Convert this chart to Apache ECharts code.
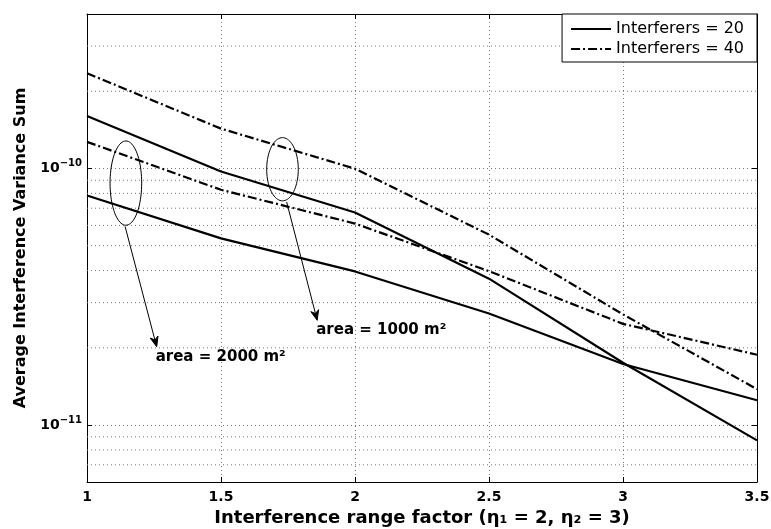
<!DOCTYPE html>
<html><head><meta charset="utf-8">
<script src="https://cdn.jsdelivr.net/npm/echarts@6/dist/echarts.min.js"></script>
<style>html,body{margin:0;padding:0;background:#fff}#c{width:771px;height:529px}</style>
</head><body><div id="c"></div>
<script>
// ---- data ----
const xValues = [1, 1.5, 2, 2.5, 3, 3.5];
const xTickLabels = ['1', '1.5', '2', '2.5', '3', '3.5'];
const yTickExponents = [-11, -10];
const i20Area1000 = [1.60e-10, 9.73e-11, 6.74e-11, 3.72e-11, 1.75e-11, 8.72e-12];
const i20Area2000 = [7.85e-11, 5.34e-11, 3.97e-11, 2.72e-11, 1.73e-11, 1.25e-11];
const i40Area1000 = [2.35e-10, 1.43e-10, 9.98e-11, 5.52e-11, 2.70e-11, 1.38e-11];
const i40Area2000 = [1.27e-10, 8.26e-11, 6.10e-11, 3.98e-11, 2.48e-11, 1.88e-11];
const legendNames = ['Interferers = 20', 'Interferers = 40'];
const xTitle = 'Interference range factor (η₁ = 2, η₂ = 3)';
const yTitle = 'Average Interference Variance Sum';
const annLabels = ['area = 2000 m²', 'area = 1000 m²'];
const annEllipseBoxes = [[1.086, 1.204, 6.01e-11, 1.28e-10], [1.6705, 1.7884, 7.48e-11, 1.319e-10]];
const annArrowFrom = [[1.142, 5.95e-11], [1.745, 7.4e-11]];
const annArrowTo = [[1.26, 2.02e-11], [1.859, 2.56e-11]];
const xMin = 1, xMax = 3.5, yMin = 6e-12, yMax = 4e-10;

// ---- styles ----
const FONT = "'DejaVu Sans', sans-serif";
const gridDot = { type: [1, 3], color: '#777', width: 1 };
const dashDot = [9, 3, 2, 3];

// minor log gridline values (2..9 x decade) inside the axis range
const minorGrid = [];
for (let d = -12; d <= -10; d++) {
  for (let k = 2; k <= 9; k++) {
    const v = k * Math.pow(10, d);
    if (v > yMin * 1.0001 && v < yMax * 0.9999) minorGrid.push(v);
  }
}

function lineSeries(name, values, dashed) {
  return {
    name: name, type: 'line',
    data: xValues.map((x, i) => [x, values[i]]),
    symbol: 'none', showSymbol: false, z: 3, animation: false,
    lineStyle: { color: '#000', width: 2.2, type: dashed ? dashDot : 'solid' },
    itemStyle: { color: '#000' },
    emphasis: { disabled: true }
  };
}

const chart = echarts.init(document.getElementById('c'), null, { renderer: 'canvas' });
const axisLineStyle = { show: true, lineStyle: { color: '#000', width: 1 } };
const option = {
  backgroundColor: '#fff',
  animation: false,
  grid: { left: 87, right: 14, top: 14, bottom: 47, containLabel: false, outerBoundsMode: 'none' },
  legend: {
    data: legendNames, orient: 'vertical', right: 14, top: 14,
    padding: [7, 13, 5, 8], itemGap: 4, itemWidth: 40, itemHeight: 14,
    backgroundColor: '#fff', borderColor: '#000', borderWidth: 1, borderRadius: 0,
    selectedMode: false,
    itemStyle: { opacity: 0, color: 'transparent', borderWidth: 0 },
    textStyle: { fontFamily: FONT, fontSize: 16, color: '#000' }
  },
  xAxis: [{
    type: 'value', min: xMin, max: xMax, interval: 0.5, position: 'bottom',
    axisLine: axisLineStyle,
    axisTick: { show: true, inside: true, length: 5, lineStyle: { color: '#000' } },
    axisLabel: {
      margin: 8, color: '#000', fontFamily: FONT, fontWeight: 'bold', fontSize: 14,
      formatter: v => { const i = xValues.findIndex(x => Math.abs(x - v) < 1e-9); return i >= 0 ? xTickLabels[i] : ''; }
    },
    splitLine: { show: true, lineStyle: gridDot },
    name: xTitle, nameLocation: 'middle', nameGap: 21,
    nameTextStyle: { fontFamily: FONT, fontWeight: 'bold', fontSize: 18, color: '#000' }
  }, {
    type: 'value', min: xMin, max: xMax, interval: 0.5, position: 'top',
    axisLine: axisLineStyle,
    axisTick: { show: true, inside: true, length: 5, lineStyle: { color: '#000' } },
    axisLabel: { show: false }, splitLine: { show: false }
  }],
  yAxis: [{
    type: 'log', logBase: 10, min: yMin, max: yMax, position: 'left',
    axisLine: axisLineStyle,
    axisTick: { show: true, inside: true, length: 5, lineStyle: { color: '#000' } },
    axisLabel: {
      margin: 5, color: '#000',
      formatter: v => {
        const e = Math.log10(v), r = Math.round(e);
        if (Math.abs(e - r) > 1e-6 || yTickExponents.indexOf(r) < 0) return '';
        return '{b|10}{s|' + String(r).replace('-', '−') + '}';
      },
      rich: {
        b: { fontFamily: FONT, fontWeight: 'bold', fontSize: 14, color: '#000' },
        s: { fontFamily: FONT, fontWeight: 'bold', fontSize: 10, color: '#000', padding: [0, 0, 10, 0] }
      }
    },
    splitLine: { show: true, lineStyle: gridDot },
    name: yTitle, nameLocation: 'middle', nameGap: 55, nameRotate: 90,
    nameTextStyle: { fontFamily: FONT, fontWeight: 'bold', fontSize: 16, color: '#000' }
  }, {
    type: 'log', logBase: 10, min: yMin, max: yMax, position: 'right',
    axisLine: axisLineStyle,
    axisTick: { show: true, inside: true, length: 5, lineStyle: { color: '#000' } },
    axisLabel: { show: false }, splitLine: { show: false }
  }],
  series: [
    lineSeries(legendNames[0], i20Area1000, false),
    lineSeries(legendNames[1], i40Area1000, true),
    lineSeries(legendNames[0], i20Area2000, false),
    lineSeries(legendNames[1], i40Area2000, true),
    {
      // minor gridlines of the log axis, placed through the axis scale
      type: 'custom', name: 'minorGrid', silent: true, z: 1, animation: false,
      data: minorGrid.map(v => [xMin, v]),
      encode: { x: 0, y: 1 },
      renderItem: function (params, api) {
        const v = api.value(1);
        const a = api.coord([xMin, v]);
        const b = api.coord([xMax, v]);
        return { type: 'line', shape: { x1: a[0], y1: a[1], x2: b[0], y2: b[1] },
          style: { stroke: gridDot.color, lineWidth: 1, lineDash: gridDot.type } };
      }
    },
    {
      type: 'custom', name: 'annotations', silent: true, clip: false, z: 4, animation: false,
      data: annArrowTo.map(p => [p[0], p[1]]),
      encode: { x: 0, y: 1 },
      renderItem: function (params, api) {
        const i = params.dataIndex;
        const b = annEllipseBoxes[i];
        const p0 = api.coord([b[0], b[2]]);
        const p1 = api.coord([b[1], b[3]]);
        const cx = (p0[0] + p1[0]) / 2, cy = (p0[1] + p1[1]) / 2;
        const rx = Math.abs(p1[0] - p0[0]) / 2, ry = Math.abs(p1[1] - p0[1]) / 2;
        const pts = [];
        for (let k = 0; k < 80; k++) {
          const t = k / 80 * Math.PI * 2;
          pts.push([cx + rx * Math.cos(t), cy + ry * Math.sin(t)]);
        }
        const a = api.coord(annArrowFrom[i]);
        const t = api.coord(annArrowTo[i]);
        const dx = t[0] - a[0], dy = t[1] - a[1];
        const len = Math.sqrt(dx * dx + dy * dy);
        const ux = dx / len, uy = dy / len, px = -uy, py = ux;
        const L = 10, W = 4;
        const base = [t[0] - ux * L, t[1] - uy * L];
        const notch = [t[0] - ux * L * 0.7, t[1] - uy * L * 0.7];
        return {
          type: 'group',
          children: [
            { type: 'polygon', shape: { points: pts }, style: { fill: 'none', stroke: '#000', lineWidth: 1 } },
            { type: 'line', shape: { x1: a[0], y1: a[1], x2: notch[0], y2: notch[1] }, style: { stroke: '#000', lineWidth: 1 } },
            { type: 'polygon', shape: { points: [t, [base[0] + px * W, base[1] + py * W], notch, [base[0] - px * W, base[1] - py * W]] },
              style: { fill: '#000', stroke: '#000', lineWidth: 1 } },
            { type: 'text', style: { text: annLabels[i], x: t[0] - 1, y: t[1] + 10,
                font: "bold 15px 'DejaVu Sans', sans-serif", fill: '#000', align: 'left', verticalAlign: 'middle' } }
          ]
        };
      }
    }
  ]
};
chart.setOption(option);
</script>
</body></html>
